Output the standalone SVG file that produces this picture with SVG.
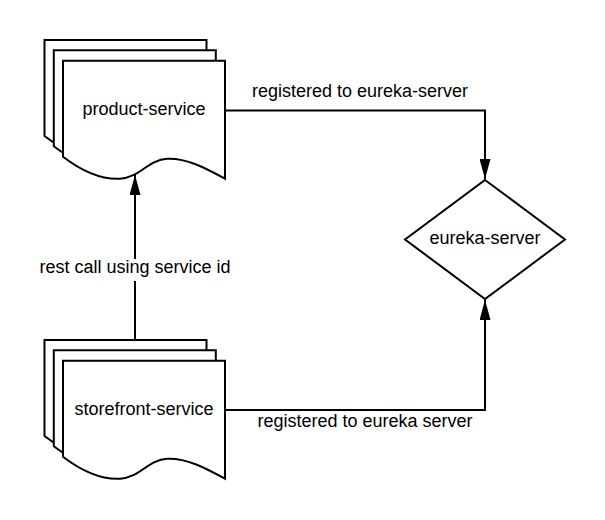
<svg xmlns="http://www.w3.org/2000/svg" width="605" height="520" viewBox="0 0 605 520">
<style>
.sh{fill:#fff;stroke:#000;stroke-width:2;stroke-linejoin:miter}
.ln{fill:none;stroke:#000;stroke-width:2}
.t{font-family:"Liberation Sans",Arial,sans-serif;font-size:18px;fill:#000;text-anchor:middle}
</style>
<defs>
<path id="doc" d="M0,0 H162 V118 C142,107 123,97 104,98 C85,99 77,117 57,118 C37,119 17,109 0,96 Z"/>
<marker id="ah" markerWidth="20" markerHeight="11" refX="20" refY="5.5" orient="auto" markerUnits="userSpaceOnUse" viewBox="0 0 20 11">
<path d="M0,0 L20,5.5 L0,11 Z" fill="#000"/>
</marker>
</defs>
<rect width="605" height="520" fill="#fff"/>
<g id="connectors">
<polyline class="ln" points="225,110.5 485,110.5 485,179" marker-end="url(#ah)"/>
<polyline class="ln" points="225,410 485,410 485,300" marker-end="url(#ah)"/>
<line class="ln" x1="135" y1="340" x2="135" y2="175" marker-end="url(#ah)"/>
<rect x="36" y="259" width="198" height="22" fill="#fff"/>
<text class="t" x="135" y="273">rest call using service id</text>
<text class="t" x="360" y="96.5">registered to eureka-server</text>
<text class="t" x="365" y="426.5">registered to eureka server</text>
</g>
<g id="product-service">
<use href="#doc" class="sh" x="44.5" y="40"/>
<use href="#doc" class="sh" x="53.8" y="50.3"/>
<use href="#doc" class="sh" x="63" y="60.7"/>
<text class="t" x="144" y="115">product-service</text>
</g>
<g id="storefront-service">
<use href="#doc" class="sh" x="44.5" y="340"/>
<use href="#doc" class="sh" x="53.8" y="350.3"/>
<use href="#doc" class="sh" x="63" y="360.7"/>
<text class="t" x="144" y="414.5">storefront-service</text>
</g>
<g id="eureka-server">
<polygon class="sh" points="485,180 565,239.5 485,299 405,239.5"/>
<text class="t" x="485" y="244">eureka-server</text>
</g>
</svg>
